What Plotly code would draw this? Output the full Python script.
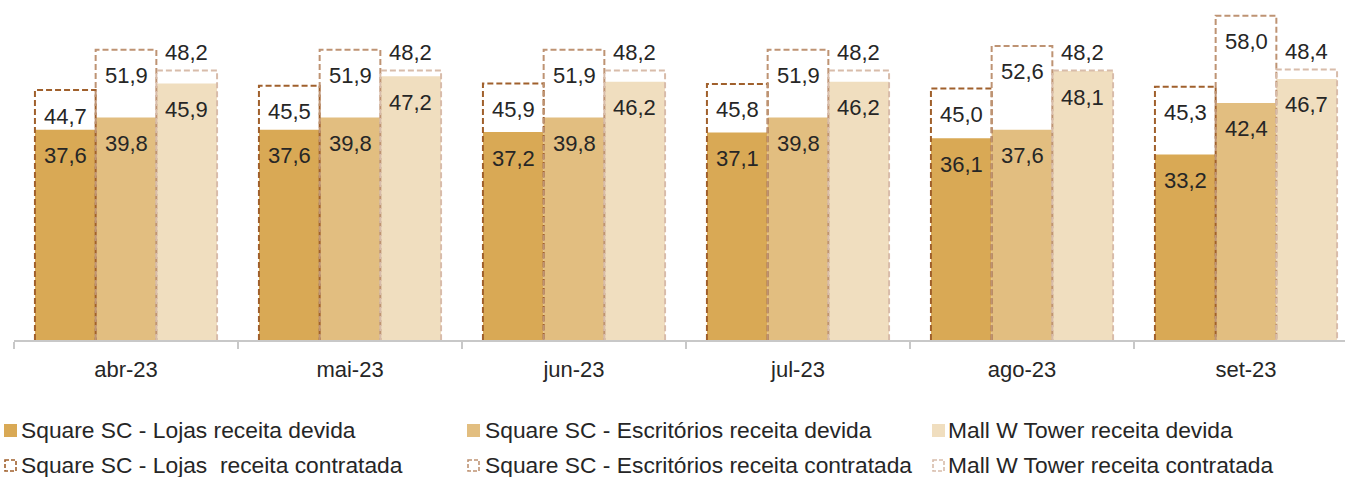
import plotly.graph_objects as go

# Monthly revenue (R$ per m2) by asset: amount due vs. contracted
months = ["abr-23", "mai-23", "jun-23", "jul-23", "ago-23", "set-23"]

lojas_devida = [37.6, 37.6, 37.2, 37.1, 36.1, 33.2]
lojas_contratada = [44.7, 45.5, 45.9, 45.8, 45.0, 45.3]
escritorios_devida = [39.8, 39.8, 39.8, 39.8, 37.6, 42.4]
escritorios_contratada = [51.9, 51.9, 51.9, 51.9, 52.6, 58.0]
mall_devida = [45.9, 47.2, 46.2, 46.2, 48.1, 46.7]
mall_contratada = [48.2, 48.2, 48.2, 48.2, 48.2, 48.4]

names_devida = [
    "Square SC - Lojas receita devida",
    "Square SC - Escritórios receita devida",
    "Mall W Tower receita devida",
]
names_contratada = [
    "Square SC - Lojas  receita contratada",
    "Square SC - Escritórios receita contratada",
    "Mall W Tower receita contratada",
]

FONT = "Liberation Sans, Arial, sans-serif"
TEXT = "#262626"
FS = 22
FS_LEG = 22.8

fills = ["#D9A955", "#E2BE80", "#F0DEBF"]
borders = ["#A0602C", "#BE9373", "#D8BCAA"]

BAR_W = 0.271
offsets = [-BAR_W, 0.0, BAR_W]

series = [
    (lojas_devida, lojas_contratada),
    (escritorios_devida, escritorios_contratada),
    (mall_devida, mall_contratada),
]

W, H = 1345, 477
ML, MR, MT, MB = 14, 0, 10, 137
plot_w = W - ML - MR
plot_h = H - MT - MB
cat_px = 224.0


def fmt(v):
    return f"{v:.1f}".replace(".", ",")


def px_x(p):
    return (p - ML) / plot_w


def px_y(p):
    return (H - MB - p) / plot_h


fig = go.Figure()
annotations = []
shapes = []

# solid bars (receita devida)
for k, (dev, con) in enumerate(series):
    xs = [i + offsets[k] for i in range(len(months))]
    fig.add_trace(go.Bar(
        x=xs, y=dev, width=BAR_W, name=names_devida[k],
        marker=dict(color=fills[k], line=dict(width=0)),
        showlegend=False, hoverinfo="skip",
    ))

# dashed outlines (receita contratada)
for k, (dev, con) in enumerate(series):
    px, py = [], []
    for i, v in enumerate(con):
        x0 = i + offsets[k] - BAR_W / 2
        x1 = i + offsets[k] + BAR_W / 2
        px += [x0, x0, x1, x1, None]
        py += [0, v, v, 0, None]
    fig.add_trace(go.Scatter(
        x=px, y=py, mode="lines", name=names_contratada[k],
        showlegend=False, hoverinfo="skip",
        line=dict(color=borders[k], width=2, dash="6px,3px"),
    ))

# value labels
for k, (dev, con) in enumerate(series):
    for i in range(len(months)):
        xc = i + offsets[k]
        annotations.append(dict(
            x=xc, y=dev[i], xref="x", yref="y", text=fmt(dev[i]),
            showarrow=False, yanchor="middle", yshift=-26,
            font=dict(family=FONT, size=FS, color=TEXT),
        ))
        annotations.append(dict(
            x=xc, y=con[i], xref="x", yref="y", text=fmt(con[i]),
            showarrow=False, yanchor="middle",
            yshift=18 if k == 2 else -26,
            font=dict(family=FONT, size=FS, color=TEXT),
        ))

# legend: three columns, "devida" on the first row, "contratada" on the second
col_sym = [4, 467, 932]
col_txt = [21, 485, 948]
row_y = [430.5, 465.5]
for k in range(3):
    # solid swatch
    shapes.append(dict(
        type="rect", xref="paper", yref="paper",
        x0=px_x(col_sym[k]), x1=px_x(col_sym[k] + 13),
        y0=px_y(row_y[0] - 6.5), y1=px_y(row_y[0] + 6.5),
        fillcolor=fills[k], line=dict(width=0),
    ))
    # dashed open swatch
    shapes.append(dict(
        type="rect", xref="paper", yref="paper",
        x0=px_x(col_sym[k] + 1), x1=px_x(col_sym[k] + 12),
        y0=px_y(row_y[1] - 5.5), y1=px_y(row_y[1] + 5.5),
        fillcolor="rgba(0,0,0,0)",
        line=dict(color=borders[k], width=1.6, dash="4px,2px"),
    ))
    for r, label in enumerate([names_devida[k], names_contratada[k]]):
        annotations.append(dict(
            x=px_x(col_txt[k] - 2), y=px_y(row_y[r] - 1), xref="paper", yref="paper",
            text=label.replace("  ", "&nbsp; "), showarrow=False,
            xanchor="left", yanchor="middle",
            font=dict(family=FONT, size=FS_LEG, color=TEXT),
        ))

fig.update_layout(
    width=W, height=H,
    margin=dict(l=ML, r=MR, t=MT, b=MB),
    paper_bgcolor="white", plot_bgcolor="white",
    barmode="overlay", showlegend=False,
    font=dict(family=FONT, size=FS, color=TEXT),
    xaxis=dict(
        range=[-0.5, -0.5 + plot_w / cat_px],
        tickmode="array", tickvals=list(range(len(months))), ticktext=months,
        ticks="", showgrid=False, zeroline=False,
        showline=True, linecolor="#C8C8C8", linewidth=1.5,
        ticklabelstandoff=9,
        tickfont=dict(family=FONT, size=FS, color=TEXT),
        minor=dict(tickmode="array",
                   tickvals=[i - 0.5 for i in range(len(months) + 1)],
                   ticks="outside", ticklen=7, tickwidth=1.5,
                   tickcolor="#C8C8C8", showgrid=False),
        fixedrange=True,
    ),
    yaxis=dict(range=[0, 59.03], visible=False, fixedrange=True),
    annotations=annotations,
    shapes=shapes,
)

fig.write_html("out.html")
